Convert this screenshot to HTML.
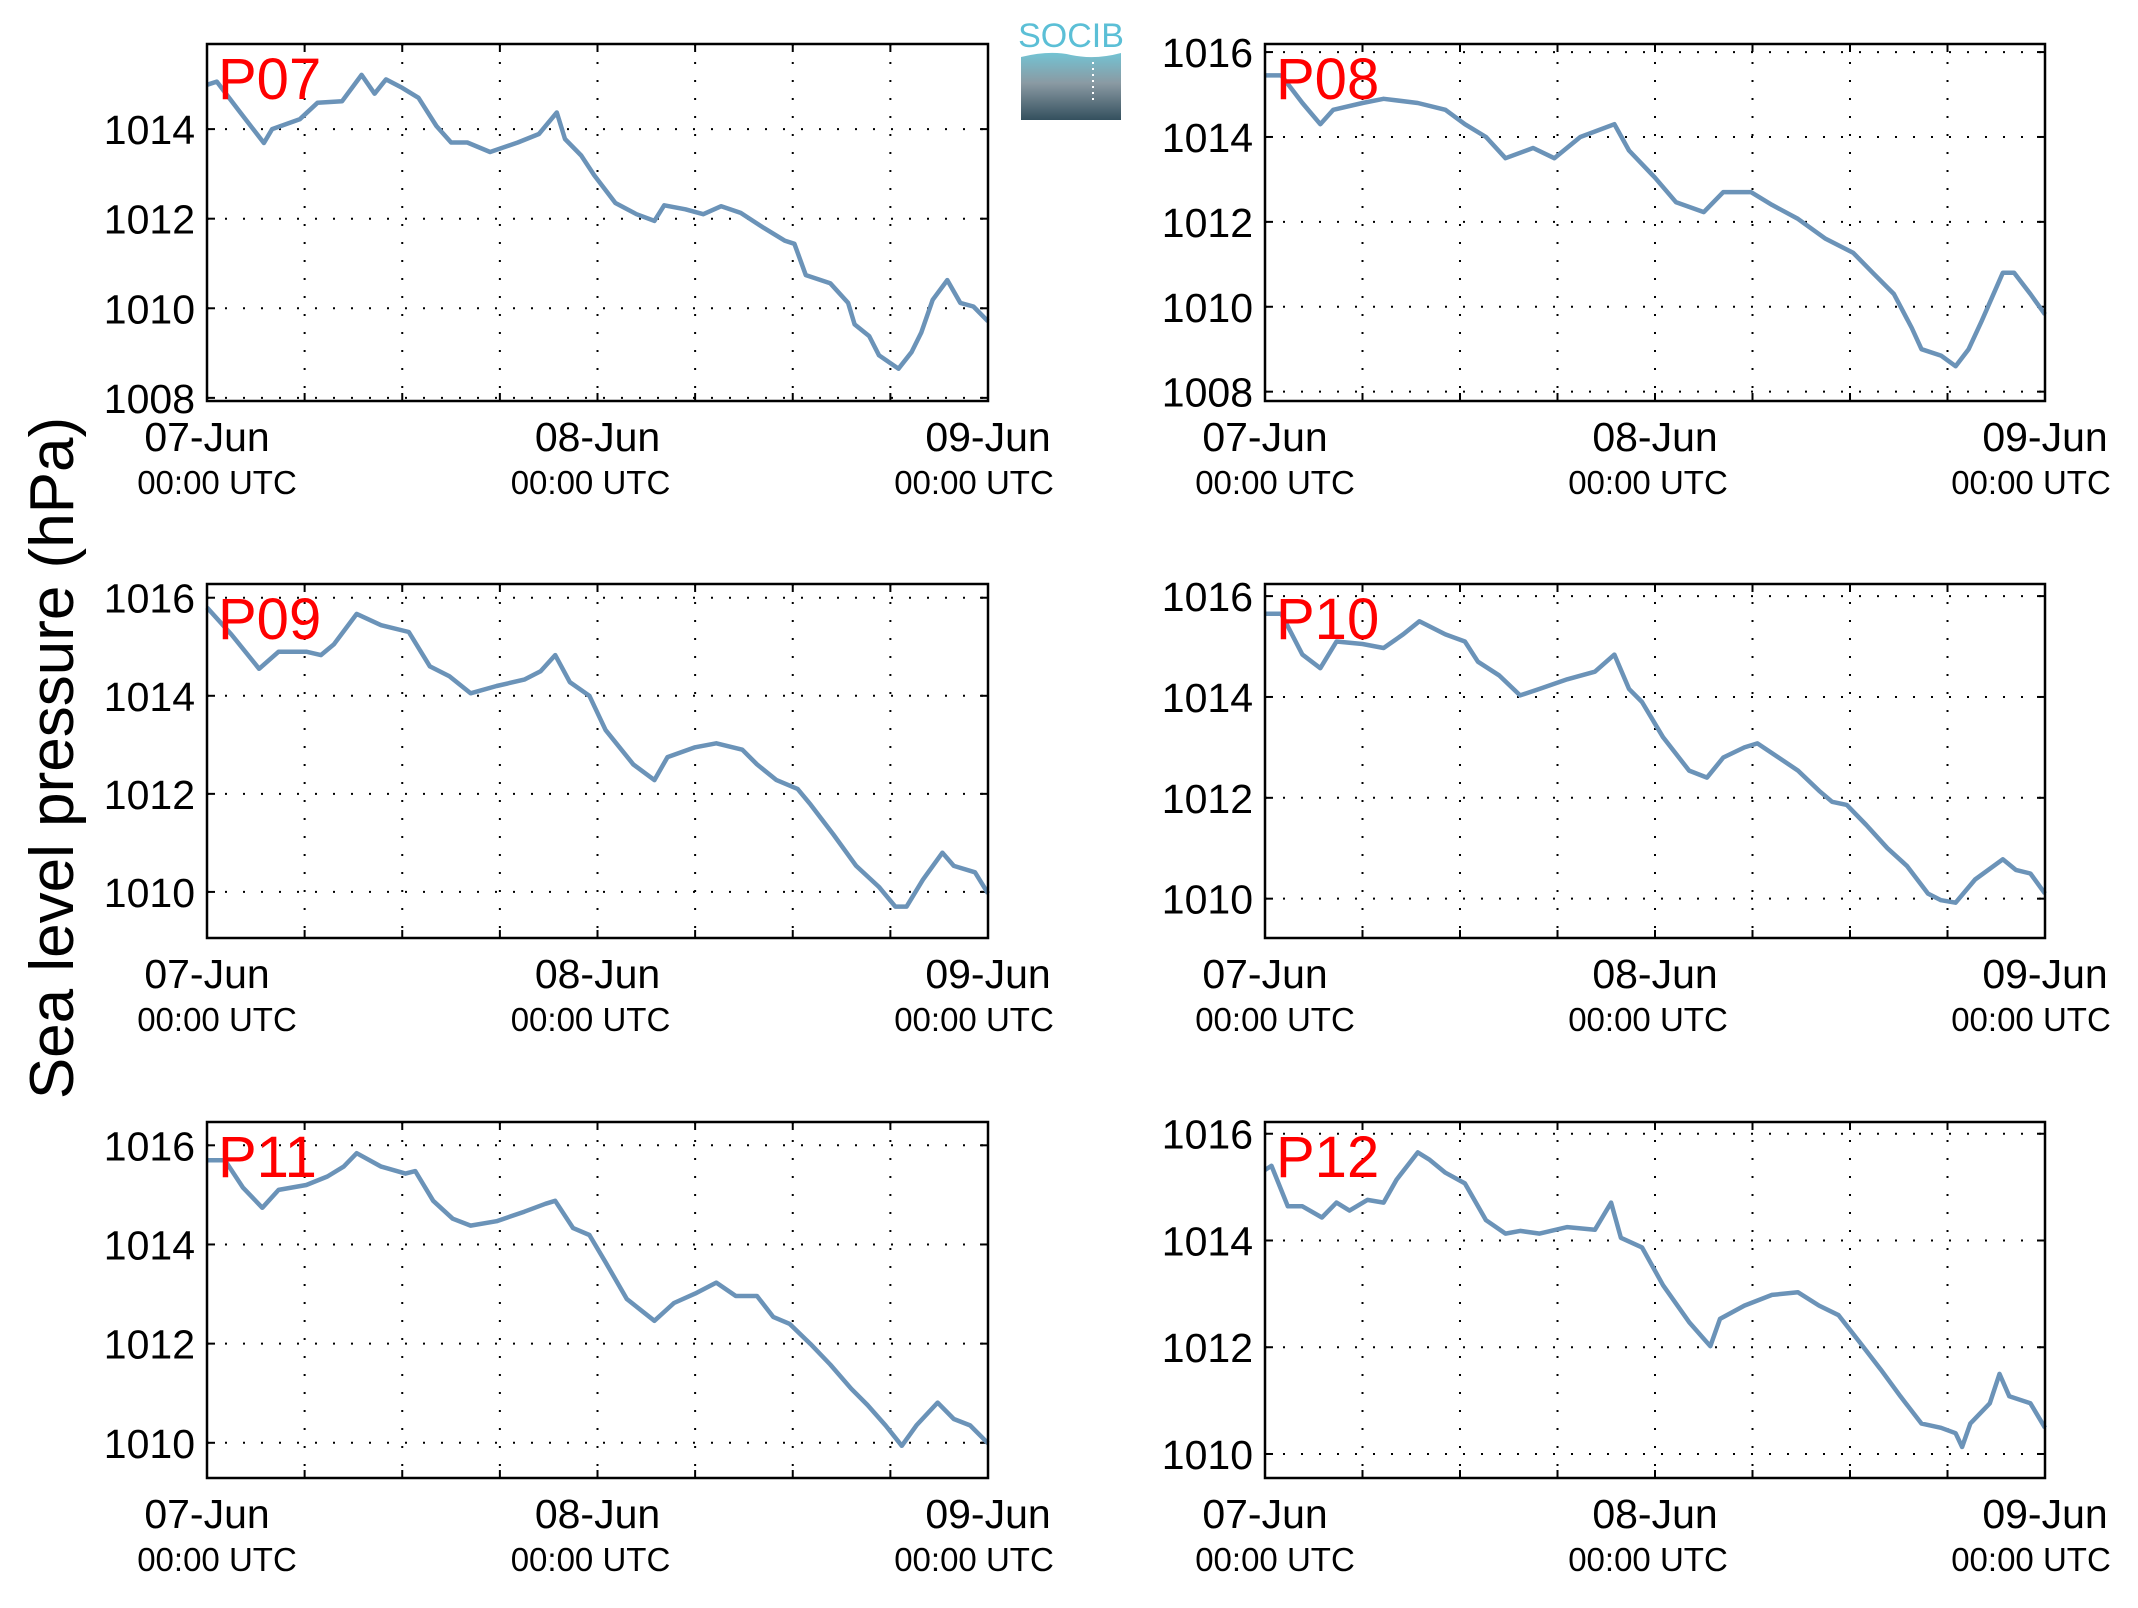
<!DOCTYPE html>
<html><head><meta charset="utf-8"><style>
html,body{margin:0;padding:0;background:#fff;}
svg{display:block;font-family:"Liberation Sans",sans-serif;}
</style></head><body>
<svg id="chart" width="2138" height="1608" viewBox="0 0 2138 1608" xmlns="http://www.w3.org/2000/svg">
<rect width="2138" height="1608" fill="#fff"/>
<g>
<defs><linearGradient id="lg" x1="0" y1="0" x2="0" y2="1"><stop offset="0" stop-color="#73c3d3"/><stop offset="0.45" stop-color="#8a9aa3"/><stop offset="1" stop-color="#34505e"/></linearGradient></defs>
<text x="1071" y="47" text-anchor="middle" font-size="34" fill="#5bbfd6">SOCIB</text>
<path d="M1021 57 Q1050 50 1071 55 Q1095 60 1121 53 L1121 120 L1021 120 Z" fill="url(#lg)"/>
<line x1="1093" y1="62" x2="1093" y2="104" stroke="#fff" stroke-width="2" stroke-dasharray="2 4"/>
</g>
<text x="0" y="0" transform="translate(73,758) rotate(-90)" text-anchor="middle" font-size="62" fill="#000">Sea level pressure (hPa)</text>
<g id="panels"></g>
</svg>
<script>
// Panel names
const panelNames = ["P07","P08","P09","P10","P11","P12"];
// Time (hours since 07-Jun 00:00 UTC) and pressure values per panel
const hoursP07 = [0,0.6,1.9,3.5,4,5.7,6.8,8.3,9.5,10.3,11,12,13,14.1,15,16,17.4,19.1,20.4,21.5,22,23,23.8,25.1,26.4,27.5,28.1,29.4,30.5,31.6,32.8,34.2,35.5,36.1,36.8,38.3,39.4,39.8,40.7,41.3,42.5,43.3,43.9,44.6,45.5,46.3,47.1,48];
const valuesP07 = [1014.99,1015.06,1014.44,1013.69,1014.0,1014.22,1014.59,1014.62,1015.21,1014.79,1015.11,1014.92,1014.7,1014.07,1013.7,1013.7,1013.49,1013.7,1013.89,1014.37,1013.78,1013.41,1012.97,1012.35,1012.1,1011.95,1012.3,1012.21,1012.1,1012.28,1012.13,1011.8,1011.51,1011.44,1010.74,1010.56,1010.12,1009.64,1009.38,1008.95,1008.65,1009.02,1009.46,1010.19,1010.63,1010.12,1010.04,1009.71];
const hoursP08 = [0,1.0,2.3,3.4,4.2,6.0,7.3,9.4,11.1,12.3,13.6,14.8,16.5,17.8,19.4,21.5,22.4,24.0,25.3,27.0,28.2,29.9,31.2,32.8,34.5,36.2,37.4,38.7,39.8,40.4,41.6,42.5,43.3,44.1,45.4,46.1,47.1,48];
const valuesP08 = [1015.45,1015.45,1014.8,1014.3,1014.64,1014.8,1014.9,1014.8,1014.64,1014.3,1014.0,1013.5,1013.74,1013.5,1014.0,1014.3,1013.68,1013.04,1012.46,1012.23,1012.7,1012.7,1012.4,1012.07,1011.6,1011.27,1010.8,1010.3,1009.5,1009.0,1008.85,1008.6,1009.0,1009.66,1010.8,1010.8,1010.3,1009.82];
const hoursP09 = [0,1.5,3.2,4.4,6.1,7.0,7.8,9.2,10.7,12.4,13.7,14.9,16.2,17.8,19.5,20.5,21.4,22.3,23.5,24.5,26.2,27.5,28.3,30.0,31.3,32.9,33.8,35.0,36.3,37.1,38.5,39.9,41.3,42.3,43.0,44.0,45.2,45.9,47.2,48];
const valuesP09 = [1015.8,1015.25,1014.55,1014.9,1014.9,1014.83,1015.05,1015.67,1015.44,1015.3,1014.6,1014.4,1014.05,1014.2,1014.33,1014.5,1014.83,1014.28,1014.0,1013.3,1012.6,1012.28,1012.75,1012.95,1013.03,1012.9,1012.6,1012.28,1012.1,1011.78,1011.17,1010.53,1010.1,1009.7,1009.7,1010.25,1010.8,1010.53,1010.4,1009.97];
const hoursP10 = [0,1.0,2.3,3.4,4.4,6.0,7.3,8.5,9.5,11.1,12.3,13.1,14.4,15.7,16.9,18.6,20.3,21.5,22.4,23.2,24.5,26.1,27.2,28.2,29.5,30.3,31.6,32.8,34.1,34.9,35.8,37.0,38.3,39.5,40.8,41.6,42.5,43.7,45.4,46.2,47.1,48];
const valuesP10 = [1015.65,1015.65,1014.84,1014.57,1015.1,1015.05,1014.97,1015.24,1015.5,1015.24,1015.1,1014.7,1014.43,1014.03,1014.16,1014.35,1014.5,1014.84,1014.16,1013.9,1013.2,1012.54,1012.4,1012.8,1013.0,1013.08,1012.8,1012.54,1012.14,1011.92,1011.86,1011.46,1011.0,1010.65,1010.1,1009.97,1009.92,1010.38,1010.78,1010.57,1010.5,1010.1];
const hoursP11 = [0,1.1,2.2,3.4,4.4,6.1,7.4,8.4,9.2,10.7,12.2,12.8,13.9,15.1,16.2,17.8,19.5,20.8,21.4,22.5,23.5,24.5,25.8,27.5,28.7,30.0,31.3,32.5,33.8,34.8,35.8,37.1,38.3,39.6,40.6,41.7,42.7,43.6,44.9,45.9,46.9,48];
const valuesP11 = [1015.7,1015.7,1015.15,1014.74,1015.1,1015.2,1015.37,1015.57,1015.84,1015.57,1015.43,1015.48,1014.88,1014.52,1014.38,1014.47,1014.66,1014.82,1014.88,1014.33,1014.19,1013.64,1012.9,1012.46,1012.82,1013.01,1013.23,1012.96,1012.96,1012.54,1012.4,1011.99,1011.58,1011.09,1010.76,1010.35,1009.94,1010.35,1010.81,1010.48,1010.35,1009.99];
const hoursP12 = [0,0.4,1.4,2.3,3.5,4.4,5.2,6.3,7.3,8.1,9.4,10.1,11.1,12.3,13.6,14.8,15.7,16.9,18.6,20.3,21.3,21.9,23.2,24.5,26.1,27.4,28.0,29.5,31.2,32.8,34.1,35.3,36.6,37.9,39.1,40.4,41.6,42.5,42.9,43.4,44.6,45.2,45.8,47.1,48];
const valuesP12 = [1015.32,1015.4,1014.64,1014.64,1014.43,1014.71,1014.56,1014.76,1014.71,1015.14,1015.65,1015.52,1015.27,1015.07,1014.38,1014.13,1014.18,1014.13,1014.25,1014.2,1014.71,1014.05,1013.87,1013.16,1012.47,1012.02,1012.53,1012.78,1012.98,1013.03,1012.78,1012.6,1012.09,1011.58,1011.08,1010.57,1010.49,1010.39,1010.13,1010.57,1010.95,1011.5,1011.08,1010.95,1010.49];
// y-axis limits and ticks per panel
const yMinList = [1007.93,1007.78,1009.06,1009.22,1009.29,1009.55];
const yMaxList = [1015.9,1016.19,1016.28,1016.24,1016.47,1016.22];
const yTicksP07 = [1008,1010,1012,1014];
const yTicksOther = [1008,1010,1012,1014,1016];
const xTickLabels = ["07-Jun","08-Jun","09-Jun"];
const xTickHours = [0,24,48];

const hoursAll = [hoursP07,hoursP08,hoursP09,hoursP10,hoursP11,hoursP12];
const valuesAll = [valuesP07,valuesP08,valuesP09,valuesP10,valuesP11,valuesP12];
const NS = "http://www.w3.org/2000/svg";
const colL = [207,988], colR = [1265,2045];
const rows = [[44,401],[584,938],[1122,1478]];
const utcShift = [10,-7,-14];
const root = document.getElementById('panels');
function mk(tag, attrs, parent){const e=document.createElementNS(NS,tag);for(const k in attrs)e.setAttribute(k,attrs[k]);parent.appendChild(e);return e;}

for(let i=0;i<6;i++){
  const c = (i%2===0)?colL:colR, r = rows[Math.floor(i/2)];
  const x0=c[0],x1=c[1],y0=r[0],y1=r[1];
  const ymin=yMinList[i], ymax=yMaxList[i];
  const xs = h => x0 + (h/48)*(x1-x0);
  const ys = v => y1 - (v-ymin)/(ymax-ymin)*(y1-y0);
  const g = mk('g',{},root);
  
  
  for(let h=6;h<48;h+=6){
    const l=mk('line',{x1:xs(h),x2:xs(h),y1:y0,y2:y1,stroke:'#000','stroke-width':2,'stroke-dasharray':'2 16'},g);
    
    
    mk('line',{x1:xs(h),x2:xs(h),y1:y1,y2:y1-8,stroke:'#000','stroke-width':2},g);
    mk('line',{x1:xs(h),x2:xs(h),y1:y0,y2:y0+8,stroke:'#000','stroke-width':2},g);
  }
  const ticks = i===0?yTicksP07:yTicksOther;
  for(const t of ticks){
    if(t<ymin||t>ymax) continue;
    const y=ys(t);
    const l=mk('line',{x1:x0,x2:x1,y1:y,y2:y,stroke:'#000','stroke-width':2,'stroke-dasharray':'2 16'},g);
    
    
    mk('line',{x1:x0,x2:x0+8,y1:y,y2:y,stroke:'#000','stroke-width':2},g);
    mk('line',{x1:x1,x2:x1-8,y1:y,y2:y,stroke:'#000','stroke-width':2},g);
    const tx=mk('text',{x:x0-12,y:y+15,'text-anchor':'end','font-size':41,fill:'#000'},g);
    tx.textContent=t;
    
    
  }
  const hs=hoursAll[i], vs=valuesAll[i];
  let d='';
  for(let k=0;k<hs.length;k++) d+=(k?'L':'M')+xs(hs[k]).toFixed(1)+' '+ys(vs[k]).toFixed(1);
  const p=mk('path',{d:d,fill:'none',stroke:'#6b93b8','stroke-width':4.5,'stroke-linejoin':'round'},g);
  
  
  const fr=mk('rect',{x:x0,y:y0,width:x1-x0,height:y1-y0,fill:'none',stroke:'#000','stroke-width':2.5},g);
  
  
  for(let k=0;k<xTickHours.length;k++){
    const xx=xs(xTickHours[k]);
    const t1=mk('text',{x:xx,y:y1+50,'text-anchor':'middle','font-size':41,fill:'#000'},g);
    t1.textContent=xTickLabels[k];
    
    
    const t2=mk('text',{x:xx+utcShift[k],y:y1+93,'text-anchor':'middle','font-size':33,fill:'#000'},g);
    t2.textContent='00:00 UTC';
    
    
  }
  const lab=mk('text',{x:x0+11,y:y0+55,'font-size':58,fill:'#ff0000'},g);
  lab.textContent=panelNames[i];
  
  
}
</script>
</body></html>
